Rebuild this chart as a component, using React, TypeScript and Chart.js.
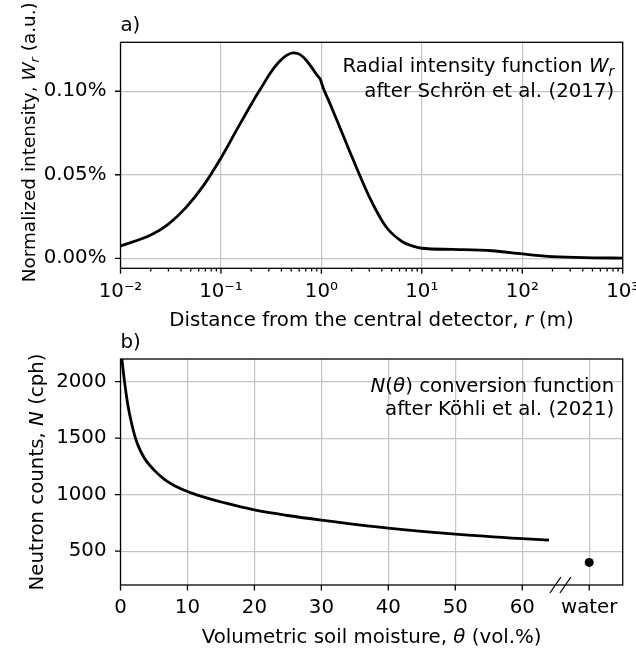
import React, { useEffect, useRef } from "react";
import { Chart, registerables } from "chart.js";

Chart.register(...registerables);

const FONT = "'DejaVu Sans'";
const FS = 19.8;

// ---- Panel a) radial intensity (values in %) ----
const radialDistance = [0.01, 0.02, 0.03, 0.045, 0.067, 0.1, 0.143, 0.21, 0.25, 0.307, 0.35, 0.4, 0.45, 0.52, 0.58, 0.65, 0.71, 0.8, 0.9, 0.99, 1.0, 1.2, 1.5, 2.0, 3.0, 4.4, 6.4, 8, 10, 20, 50, 100, 200, 500, 1000];
const radialIntensity = [0.0074, 0.0139, 0.0205, 0.0305, 0.0435, 0.06, 0.0767, 0.0943, 0.1018, 0.1105, 0.1152, 0.119, 0.1215, 0.123, 0.1226, 0.1208, 0.1184, 0.1143, 0.1098, 0.1063, 0.1052, 0.0935, 0.0795, 0.0612, 0.0368, 0.0189, 0.0099, 0.0074, 0.006, 0.0053, 0.0045, 0.0026, 0.001, 0.0003, 0.0001];
const radialTicks = [0.01, 0.1, 1, 10, 100, 1000];
const radialTickLabels = ["10\u207B\u00B2", "10\u207B\u00B9", "10\u2070", "10\u00B9", "10\u00B2", "10\u00B3"];
const intensityTicks = [0, 0.05, 0.1];
const intensityTickLabels = ["0.00%", "0.05%", "0.10%"];

// ---- Panel b) conversion function ----
const soilMoisture = [0, 0.2, 0.6, 1.1, 1.6, 2.1, 2.6, 3.6, 5.1, 6.6, 7.8, 9.1, 11.6, 15.6, 20, 25, 30, 40, 50, 60, 64];
const neutronCounts = [2330, 2205, 2000, 1793, 1645, 1527, 1438, 1320, 1212, 1132, 1088, 1050, 993, 926, 865, 815, 774, 703, 650, 610, 597];
const waterMoisture = [70];
const waterCounts = [400];
const moistureTicks = [0, 10, 20, 30, 40, 50, 60, 70];
const moistureTickLabels = ["0", "10", "20", "30", "40", "50", "60", "water"];
const countTicks = [500, 1000, 1500, 2000];
const countTickLabels = ["500", "1000", "1500", "2000"];

type Seg = { t: string; it?: boolean; sub?: boolean };

function segFont(s: Seg, size: number) {
  const sz = s.sub ? size * 0.7 : size;
  return `${s.it ? "italic " : ""}${sz}px ${FONT}`;
}

function richWidth(ctx: CanvasRenderingContext2D, segs: Seg[], size: number) {
  let w = 0;
  for (const s of segs) {
    ctx.font = segFont(s, size);
    w += ctx.measureText(s.t).width;
  }
  return w;
}

function drawRich(ctx: CanvasRenderingContext2D, segs: Seg[], x: number, y: number, align: "left" | "right" | "center", size = FS) {
  const w = richWidth(ctx, segs, size);
  let cx = align === "left" ? x : align === "right" ? x - w : x - w / 2;
  ctx.textAlign = "left";
  ctx.textBaseline = "alphabetic";
  ctx.fillStyle = "#000";
  for (const s of segs) {
    ctx.font = segFont(s, size);
    ctx.fillText(s.t, cx, y + (s.sub ? size * 0.22 : 0));
    cx += ctx.measureText(s.t).width;
  }
}

type Decor = {
  label: string;
  xTitle: Seg[];
  yTitle: Seg[];
  yTitleX: number;
  yTitleShift: number;
  yTitleSize: number;
  note1: Seg[];
  note2: Seg[];
  note1Dy: number;
  note2Dy: number;
  xMajor: number[];
  xMinor: number[];
  yMajor: number[];
  brk?: number;
};

function decorPlugin(d: Decor) {
  return {
    id: "decor",
    afterDatasetsDraw(chart: any) {
      const ctx: CanvasRenderingContext2D = chart.ctx;
      const a = chart.chartArea;
      const xs = chart.scales.x;
      const ys = chart.scales.y;
      ctx.save();
      ctx.strokeStyle = "#000";
      ctx.lineWidth = 1.3;
      ctx.strokeRect(a.left, a.top, a.right - a.left, a.bottom - a.top);
      ctx.beginPath();
      for (const v of d.xMajor) {
        const px = xs.getPixelForValue(v);
        ctx.moveTo(px, a.bottom);
        ctx.lineTo(px, a.bottom + 5.5);
      }
      for (const v of d.xMinor) {
        const px = xs.getPixelForValue(v);
        ctx.moveTo(px, a.bottom);
        ctx.lineTo(px, a.bottom + 3.2);
      }
      for (const v of d.yMajor) {
        const py = ys.getPixelForValue(v);
        ctx.moveTo(a.left, py);
        ctx.lineTo(a.left - 5.5, py);
      }
      ctx.stroke();
      if (d.brk !== undefined) {
        const bx = xs.getPixelForValue(d.brk);
        ctx.lineWidth = 1.3;
        ctx.beginPath();
        for (const off of [-5, 5]) {
          ctx.moveTo(bx + off - 5.5, a.bottom + 8);
          ctx.lineTo(bx + off + 5.5, a.bottom - 8);
        }
        ctx.stroke();
      }
      ctx.restore();
    },
    afterDraw(chart: any) {
      const ctx: CanvasRenderingContext2D = chart.ctx;
      const a = chart.chartArea;
      ctx.save();
      drawRich(ctx, [{ t: d.label }], a.left, a.top - 11.5, "left");
      drawRich(ctx, d.note1, a.right - 8.5, a.top + d.note1Dy, "right");
      drawRich(ctx, d.note2, a.right - 8.5, a.top + d.note2Dy, "right");
      drawRich(ctx, d.xTitle, (a.left + a.right) / 2, a.bottom + 57.6, "center");
      ctx.save();
      ctx.translate(d.yTitleX, (a.top + a.bottom) / 2 + d.yTitleShift);
      ctx.rotate(-Math.PI / 2);
      drawRich(ctx, d.yTitle, 0, 0, "center", d.yTitleSize);
      ctx.restore();
      ctx.restore();
    },
  };
}

function fixedScale(size: number, horizontal: boolean) {
  return (scale: any) => {
    if (horizontal) scale.height = size;
    else scale.width = size;
    scale.paddingLeft = 0;
    scale.paddingRight = 0;
    scale.paddingTop = 0;
    scale.paddingBottom = 0;
  };
}

const GRID = "#c4c4c4";

export default function App() {
  const topRef = useRef<HTMLCanvasElement>(null);
  const botRef = useRef<HTMLCanvasElement>(null);

  useEffect(() => {
    const tickFont = { family: FONT, size: FS };
    const minor: number[] = [];
    for (let e = -2; e < 3; e++) for (let m = 2; m <= 9; m++) minor.push(m * Math.pow(10, e));

    const top = new Chart(topRef.current!, {
      type: "line",
      data: {
        datasets: [
          {
            data: radialDistance.map((x, i) => ({ x, y: radialIntensity[i] })),
            borderColor: "#000",
            borderWidth: 2.8,
            pointRadius: 0,
            cubicInterpolationMode: "monotone",
            fill: false,
          },
        ],
      },
      options: {
        responsive: false,
        animation: false,
        events: [],
        layout: { padding: { top: 42.3, left: 0, right: 636 - 622.7, bottom: 0 } },
        plugins: { legend: { display: false }, tooltip: { enabled: false }, title: { display: false } },
        scales: {
          x: {
            type: "logarithmic",
            min: 0.01,
            max: 1000,
            border: { display: false },
            grid: { color: GRID, lineWidth: 1.2, drawTicks: false },
            afterBuildTicks: (s: any) => {
              s.ticks = radialTicks.map((v) => ({ value: v }));
            },
            afterFit: fixedScale(332 - 268.3, true),
            ticks: {
              autoSkip: false,
              maxRotation: 0,
              padding: 12,
              color: "#000",
              font: tickFont,
              callback: (_v: any, i: number) => radialTickLabels[i],
            },
          },
          y: {
            min: -0.006,
            max: 0.1293,
            border: { display: false },
            grid: { color: GRID, lineWidth: 1.2, drawTicks: false },
            afterBuildTicks: (s: any) => {
              s.ticks = intensityTicks.map((v) => ({ value: v }));
            },
            afterFit: fixedScale(120.5, false),
            ticks: {
              padding: 14,
              color: "#000",
              font: tickFont,
              callback: (_v: any, i: number) => intensityTickLabels[i],
            },
          },
        },
      },
      plugins: [
        decorPlugin({
          label: "a)",
          xTitle: [{ t: "Distance from the central detector, " }, { t: "r", it: true }, { t: " (m)" }],
          yTitle: [{ t: "Normalized intensity, " }, { t: "W", it: true }, { t: "r", it: true, sub: true }, { t: " (a.u.)" }],
          yTitleX: 34.5,
          yTitleShift: -13,
          yTitleSize: FS * 0.93,
          note1: [{ t: "Radial intensity function " }, { t: "W", it: true }, { t: "r", it: true, sub: true }],
          note2: [{ t: "after Schrön et al. (2017)" }],
          note1Dy: 29.4,
          note2Dy: 54.4,
          xMajor: radialTicks,
          xMinor: minor,
          yMajor: intensityTicks,
        }) as any,
      ],
    } as any);

    const bot = new Chart(botRef.current!, {
      type: "line",
      data: {
        datasets: [
          {
            data: soilMoisture.map((x, i) => ({ x, y: neutronCounts[i] })),
            borderColor: "#000",
            borderWidth: 2.8,
            pointRadius: 0,
            cubicInterpolationMode: "monotone",
            fill: false,
          },
          {
            data: waterMoisture.map((x, i) => ({ x, y: waterCounts[i] })),
            showLine: false,
            pointRadius: 4.5,
            pointBackgroundColor: "#000",
            pointBorderColor: "#000",
            pointBorderWidth: 0,
          },
        ],
      },
      options: {
        responsive: false,
        animation: false,
        events: [],
        layout: { padding: { top: 359 - 332, left: 0, right: 636 - 622.7, bottom: 0 } },
        plugins: { legend: { display: false }, tooltip: { enabled: false }, title: { display: false } },
        scales: {
          x: {
            type: "linear",
            min: 0,
            max: 75,
            border: { display: false },
            grid: { color: GRID, lineWidth: 1.2, drawTicks: false },
            afterBuildTicks: (s: any) => {
              s.ticks = moistureTicks.map((v) => ({ value: v }));
            },
            afterFit: fixedScale(651 - 585, true),
            ticks: {
              autoSkip: false,
              maxRotation: 0,
              padding: 11,
              color: "#000",
              font: tickFont,
              callback: (_v: any, i: number) => moistureTickLabels[i],
            },
          },
          y: {
            min: 200,
            max: 2200,
            border: { display: false },
            grid: { color: GRID, lineWidth: 1.2, drawTicks: false },
            afterBuildTicks: (s: any) => {
              s.ticks = countTicks.map((v) => ({ value: v }));
            },
            afterFit: fixedScale(120.5, false),
            ticks: {
              padding: 14,
              color: "#000",
              font: tickFont,
              callback: (_v: any, i: number) => countTickLabels[i],
            },
          },
        },
      },
      plugins: [
        decorPlugin({
          label: "b)",
          xTitle: [{ t: "Volumetric soil moisture, " }, { t: "\u03B8", it: true }, { t: " (vol.%)" }],
          yTitle: [{ t: "Neutron counts, " }, { t: "N", it: true }, { t: " (cph)" }],
          yTitleX: 42.7,
          yTitleShift: 0,
          yTitleSize: FS,
          note1: [{ t: "N", it: true }, { t: "(" }, { t: "\u03B8", it: true }, { t: ") conversion function" }],
          note2: [{ t: "after Köhli et al. (2021)" }],
          note1Dy: 32.7,
          note2Dy: 56,
          xMajor: moistureTicks,
          xMinor: [],
          yMajor: countTicks,
          brk: 65.7,
        }) as any,
      ],
    } as any);

    return () => {
      top.destroy();
      bot.destroy();
    };
  }, []);

  return (
    <div style={{ position: "absolute", left: 0, top: 0, width: 636, height: 651, background: "#fff" }}>
      <canvas ref={topRef} width={636} height={332} style={{ position: "absolute", left: 0, top: 0, display: "block" }} />
      <canvas ref={botRef} width={636} height={319} style={{ position: "absolute", left: 0, top: 332, display: "block" }} />
    </div>
  );
}
